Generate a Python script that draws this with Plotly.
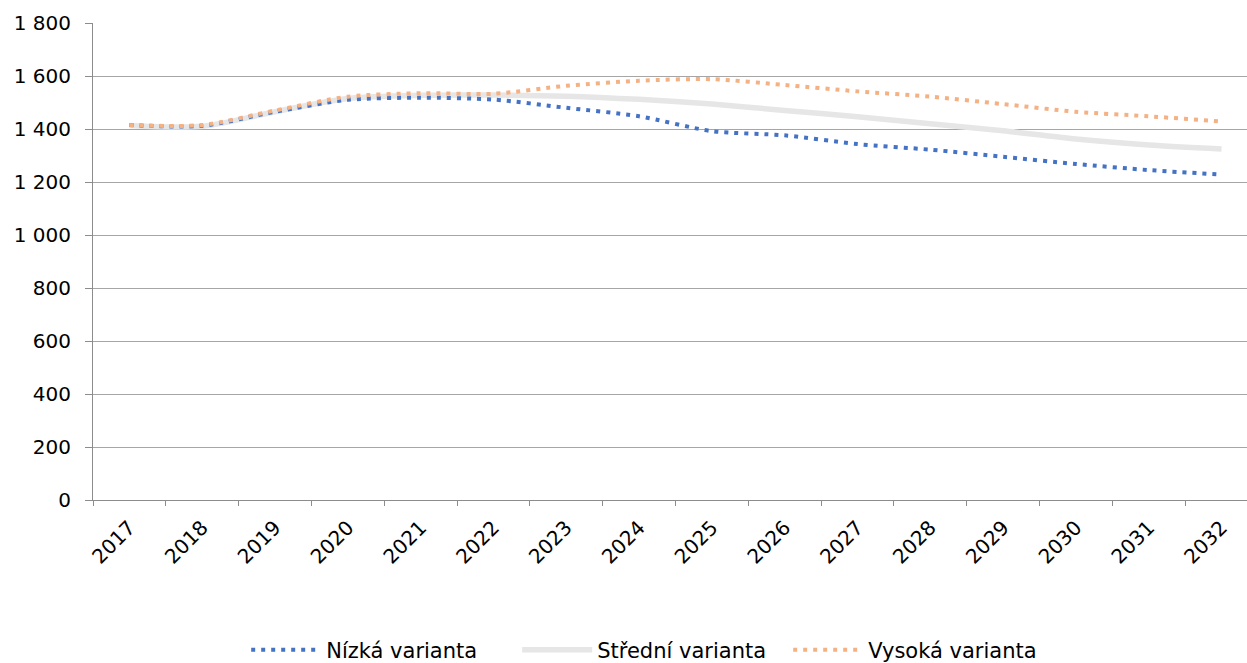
import plotly.graph_objects as go

years = [str(y) for y in range(2017, 2033)]

nizka = [1415, 1412, 1465, 1510, 1518, 1511, 1480, 1448, 1392, 1376, 1343, 1322, 1295, 1268, 1245, 1228]
stredni = [1413, 1410, 1465, 1515, 1527, 1528, 1524, 1512, 1494, 1470, 1446, 1420, 1393, 1362, 1340, 1325]
vysoka = [1415, 1415, 1470, 1522, 1535, 1533, 1563, 1582, 1588, 1566, 1542, 1522, 1494, 1465, 1448, 1428]

y_ticks = [0, 200, 400, 600, 800, 1000, 1200, 1400, 1600, 1800]
y_ticktext = ["0", "200", "400", "600", "800", "1 000", "1 200", "1 400", "1 600", "1 800"]

fig = go.Figure()
# middle variant first so the dotted lines sit on top of it
fig.add_trace(go.Scatter(
    x=years, y=stredni, name="Střední varianta", mode="lines", legendrank=2,
    line=dict(color="#E7E6E6", width=5.5, shape="spline", smoothing=0.8),
))
fig.add_trace(go.Scatter(
    x=years, y=nizka, name="Nízká varianta", mode="lines", legendrank=1,
    line=dict(color="#4472C4", width=4, dash="4px,6px", shape="spline", smoothing=0.8),
))
fig.add_trace(go.Scatter(
    x=years, y=vysoka, name="Vysoká varianta", mode="lines", legendrank=3,
    line=dict(color="#F4B183", width=4, dash="4px,6px", shape="spline", smoothing=0.8),
))

fig.update_layout(
    width=1247, height=663,
    margin=dict(l=93, r=0, t=23, b=163, autoexpand=False),
    paper_bgcolor="white", plot_bgcolor="white",
    font=dict(family="DejaVu Sans, Verdana, sans-serif", size=20, color="#000000"),
    showlegend=True,
    legend=dict(
        orientation="h", x=0.485, xanchor="center", y=-0.3145, yanchor="middle",
        font=dict(size=21, color="#000000"),
        itemwidth=70, entrywidth=186, entrywidthmode="pixels",
    ),
    xaxis=dict(
        type="category", range=[-0.5, 15.35], automargin=False,
        tickson="boundaries", ticks="outside", ticklen=5, tickcolor="#8c8c8c",
        tickangle=-45, showgrid=False, ticklabelstandoff=7,
        showline=True, linecolor="#8c8c8c", linewidth=1,
        tickfont=dict(size=20, color="#000000"),
    ),
    yaxis=dict(
        range=[0, 1800], tickvals=y_ticks, ticktext=y_ticktext, automargin=False,
        showgrid=True, gridcolor="#a6a6a6", gridwidth=1,
        showline=True, linecolor="#8c8c8c", linewidth=1,
        ticks="outside", ticklen=7, tickcolor="#8c8c8c", ticklabelstandoff=10,
        zeroline=False, tickfont=dict(size=20, color="#000000"),
    ),
)

fig.write_html("out.html")
